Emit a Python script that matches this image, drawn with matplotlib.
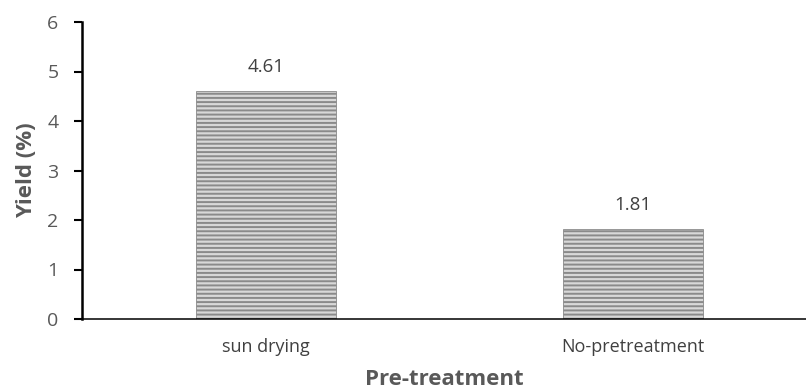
import numpy as np
import matplotlib
matplotlib.use("Agg")
import matplotlib.pyplot as plt

categories = ["sun drying", "No-pretreatment"]
yields = [4.61, 1.81]
yticks = [0, 1, 2, 3, 4, 5, 6]

plt.rcParams['font.family'] = ['Open Sans', 'DejaVu Sans']
plt.rcParams['hatch.linewidth'] = 1.4
plt.rcParams['hatch.color'] = '#666666'

grey = '#595959'
fig = plt.figure(figsize=(8.06, 3.89), dpi=100)
ax = fig.add_axes([82 / 806, 70 / 389, 724 / 806, 297 / 389])

x = np.arange(len(categories))
bars = ax.bar(x, yields, width=0.38, color='#d8d8d8', hatch='----',
              edgecolor='#8a8a8a', linewidth=0.6)

for xi, v in zip(x, yields):
    ax.annotate(f"{v:.2f}", (xi, v), xytext=(0, 11), textcoords='offset points',
                ha='center', va='bottom', fontsize=13.5, color='#404040')

ax.set_xlim(-0.5, 1.47)
ax.set_ylim(0, 6)
ax.set_yticks(yticks)
ax.set_xticks(x)
ax.set_xticklabels(categories)
ax.tick_params(axis='x', length=0, pad=14, labelsize=13, labelcolor='#404040')
ax.tick_params(axis='y', length=6, width=1.5, color='black', pad=11,
               labelsize=14, labelcolor=grey)

for s in ['top', 'right']:
    ax.spines[s].set_visible(False)
ax.spines['left'].set_linewidth(1.8)
ax.spines['bottom'].set_linewidth(1.1)

ax.set_ylabel('Yield (%)', fontsize=16, fontweight='bold', color=grey, labelpad=7)
ax.set_xlabel('Pre-treatment', fontsize=16, fontweight='bold', color=grey, labelpad=9)

fig.savefig('out.png', dpi=100)
